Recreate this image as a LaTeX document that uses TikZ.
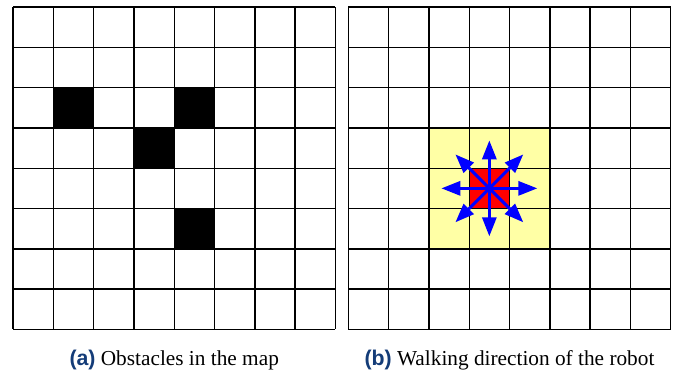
\documentclass[tikz,border=0pt]{standalone}
\usepackage{fontspec}
\setmainfont{Liberation Serif}
\newfontfamily\capsans{Liberation Sans}
\usetikzlibrary{arrows.meta,calc}
\definecolor{capblue}{RGB}{20,60,120}
\definecolor{softyellow}{RGB}{255,255,165}
\tikzset{
  gridline/.style={line width=1.4pt, black},
  obstacle/.style={fill=black},
  dirarrow/.style={blue, line width=3pt, -{Triangle[length=19pt,width=14pt]}},
  captext/.style={font=\fontsize{21.3}{24}\selectfont, inner sep=0pt, anchor=base}
}
\begin{document}
\begin{tikzpicture}[x=1pt,y=-1pt]
\useasboundingbox (0,0) rectangle (678,376);
\def\cs{40.3}
% ---------- (a) ----------
\begin{scope}[shift={(13,7)}]
  \foreach \c/\r in {1/2,4/2,3/3,4/5}
    \fill[obstacle] (\c*\cs,\r*\cs) rectangle ({(\c+1)*\cs},{(\r+1)*\cs});
  \foreach \i in {0,...,8} {
    \draw[gridline] (\i*\cs,0) -- (\i*\cs,8*\cs);
    \draw[gridline] (0,\i*\cs) -- (8*\cs,\i*\cs);
  }
  \node[captext] (capa) at (4*\cs,358.5) {{\capsans\bfseries\color{capblue}(a)} Obstacles in the map};
\end{scope}
% ---------- (b) ----------
\begin{scope}[shift={(348.3,7)}]
  \fill[softyellow] (2*\cs,3*\cs) rectangle (5*\cs,6*\cs);
  \fill[red] (3*\cs,4*\cs) rectangle (4*\cs,5*\cs);
  \foreach \i in {0,...,8} {
    \draw[gridline] (\i*\cs,0) -- (\i*\cs,8*\cs);
    \draw[gridline] (0,\i*\cs) -- (8*\cs,\i*\cs);
  }
  \coordinate (robot) at (3.5*\cs,4.5*\cs);
  \foreach \a in {0,45,...,315}
    \draw[dirarrow] (robot) -- ($(robot)+(\a:48)$);
  \node[captext] (capb) at (4*\cs,358.5) {{\capsans\bfseries\color{capblue}(b)} Walking direction of the robot};
\end{scope}
\end{tikzpicture}
\end{document}
